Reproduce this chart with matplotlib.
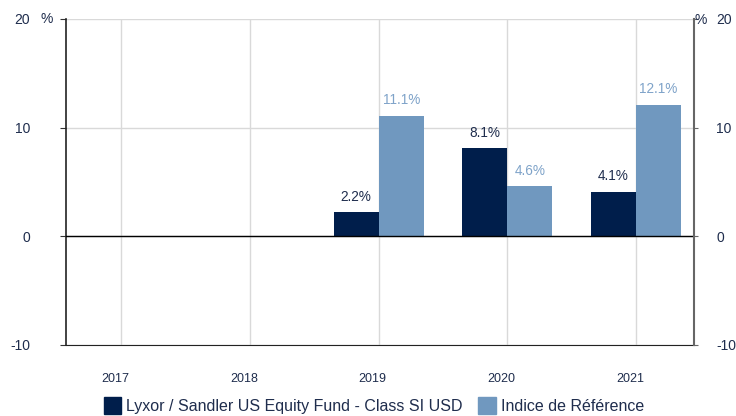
import numpy as np
import matplotlib.pyplot as plt
from matplotlib.patches import Patch
from matplotlib.transforms import ScaledTranslation

plt.rcParams['font.family'] = ['Liberation Sans', 'DejaVu Sans']
plt.rcParams['axes.unicode_minus'] = False

years = ['2017', '2018', '2019', '2020', '2021']
fund = [np.nan, np.nan, 2.2, 8.1, 4.1]
index = [np.nan, np.nan, 11.1, 4.6, 12.1]
fund_name = 'Lyxor / Sandler US Equity Fund - Class SI USD'
index_name = 'Indice de Référence'

navy = '#001e4b'
light = '#7098bf'
light_txt = '#7fa3c9'
txt = '#1f2d4d'

fig = plt.figure(figsize=(7.36, 4.16), dpi=100)
ax = fig.add_axes([66/736, 71/416, 628/736, 326/416])

x = np.arange(len(years))
w = 0.35
ax.bar(x - w/2, fund, w, color=navy, zorder=3)
ax.bar(x + w/2, index, w, color=light, zorder=3)

for xi, v in zip(x, fund):
    if not np.isnan(v):
        ax.text(xi - w/2, v + 0.8, '%.1f%%' % v, ha='center', va='bottom', fontsize=9.8, color=txt)
for xi, v in zip(x, index):
    if not np.isnan(v):
        ax.text(xi + w/2, v + 0.8, '%.1f%%' % v, ha='center', va='bottom', fontsize=9.8, color=light_txt)

ax.set_xlim(-0.43, 4.45)
ax.set_ylim(-10, 20)
ax.set_yticks([-10, 0, 10, 20])
ax.set_xticks(x)
ax.set_xticklabels(years, fontsize=9, color=txt)
ax.tick_params(axis='x', length=0, pad=20)
shift = ScaledTranslation(-6/100, 0, fig.dpi_scale_trans)
for lab in ax.get_xticklabels():
    lab.set_transform(lab.get_transform() + shift)
ax.tick_params(axis='y', labelsize=10, labelcolor=txt, length=4, pad=22, color='#333333')

# right side axis
ax2 = ax.twinx()
ax2.set_ylim(-10, 20)
ax2.set_yticks([-10, 0, 10, 20])
ax2.tick_params(axis='y', labelsize=10, labelcolor=txt, length=3, pad=13, color='#666666')
for s in ['left', 'top', 'bottom']:
    ax2.spines[s].set_visible(False)
ax2.spines['right'].set_color('#666666')
ax2.spines['right'].set_linewidth(1.5)

ax.set_axisbelow(True)
ax.grid(axis='both', color='#d9d9d9', linewidth=1, zorder=0)
ax.axhline(0, color='black', linewidth=1, zorder=4)
for s in ['left', 'bottom']:
    ax.spines[s].set_color('#222222')
ax.spines['left'].set_linewidth(1.2)
ax.spines['top'].set_visible(False)
ax.spines['right'].set_visible(False)

fig.text(47/736, 1 - 19/416, '%', fontsize=10, color=txt, ha='center', va='center')
fig.text(701/736, 1 - 20/416, '%', fontsize=10, color=txt, ha='center', va='center')

handles = [Patch(color=navy, label=fund_name), Patch(color=light, label=index_name)]
fig.legend(handles=handles, loc='lower center', bbox_to_anchor=(0.508, -0.03), ncol=2,
           frameon=False, fontsize=11.5, handlelength=1.1, handleheight=1.3,
           handletextpad=0.3, columnspacing=1.0, labelcolor=txt)

fig.savefig('out.png', dpi=100)
